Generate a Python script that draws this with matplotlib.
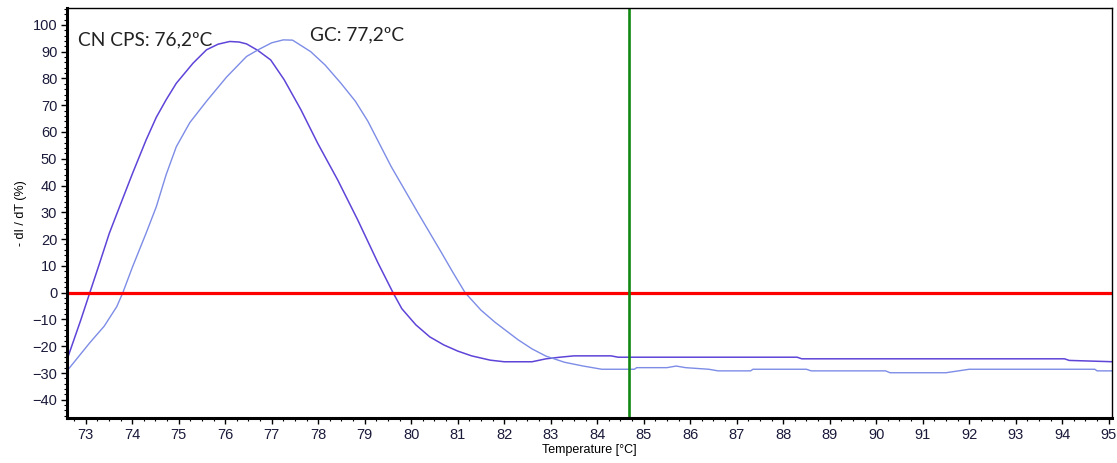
import numpy as np
import matplotlib
matplotlib.use("Agg")
import matplotlib.pyplot as plt
from matplotlib.ticker import MultipleLocator

# CN CPS melt curve (darker trace)
cn_temp = [72.6, 72.9, 73.09, 73.3, 73.51, 73.73, 74.01, 74.3, 74.52, 74.73, 74.95, 75.31,
           75.6, 75.85, 76.1, 76.3, 76.46, 76.7, 76.98, 77.27, 77.63, 77.99, 78.42, 78.85,
           79.29, 79.61, 79.8, 80.1, 80.4, 80.7, 81.0, 81.3, 81.7, 82.0, 82.6, 82.9,
           83.2, 83.5, 84.3, 84.45, 88.3, 88.4, 94.05, 94.15, 95.1]
cn_val = [-25, -10, 0, 11, 22.2, 32.1, 44.6, 57, 65.5, 72, 78.2, 85.7,
          90.7, 92.8, 93.8, 93.6, 92.9, 90.5, 86.9, 79.5, 68.3, 55.8, 42.1, 27.2,
          11, 0, -6, -12, -16.5, -19.5, -21.8, -23.6, -25.2, -25.8, -25.8, -24.7,
          -24.1, -23.6, -23.6, -24.1, -24.1, -24.7, -24.7, -25.3, -25.8]

# GC melt curve (lighter trace)
gc_temp = [72.6, 73.09, 73.4, 73.67, 73.8, 74.01, 74.3, 74.52, 74.73, 74.95, 75.24, 75.6,
           76.03, 76.46, 76.71, 77.0, 77.25, 77.45, 77.84, 78.15, 78.49, 78.8, 79.07, 79.57,
           80.15, 80.65, 80.9, 81.16, 81.5, 81.8, 82.3, 82.6, 82.9, 83.3, 83.7, 84.1, 84.8,
           84.85, 85.5, 85.7, 85.9, 86.4, 86.6, 87.3, 87.35, 88.5, 88.6, 90.2, 90.3,
           91.5, 92.0, 94.7, 94.75, 95.1]
gc_val = [-29.2, -18.7, -12.5, -5.2, 0, 9.7, 22.2, 32.1, 44, 54.5, 63.5, 71.5,
          80.5, 88.2, 90.7, 93.3, 94.4, 94.3, 90, 85, 78.2, 71.5, 64, 47.1,
          29.7, 15, 7.5, 0, -6.5, -11, -17.6, -21, -23.7, -26, -27.4, -28.6, -28.6,
          -28, -28, -27.4, -28, -28.6, -29.2, -29.2, -28.6, -28.6, -29.2, -29.2, -29.9,
          -29.9, -28.6, -28.6, -29.2, -29.2]

cursor_temp = 84.68
labels = ["CN CPS: 76,2ºC", "GC: 77,2ºC"]
label_pos = [(72.83, 92.3), (77.82, 94.2)]

fig = plt.figure(figsize=(11.17, 4.63), dpi=100)
ax = fig.add_axes([0.060, 0.0972, 0.9355, 0.8855])

ax.plot(cn_temp, cn_val, color="#5f44d8", lw=1.1)
ax.plot(gc_temp, gc_val, color="#7d8ce6", lw=1.0)
ax.axhline(0, color="#ff0000", lw=2.3)
ax.axvline(cursor_temp, color="#118811", lw=1.9)

for txt, (x, y) in zip(labels, label_pos):
    ax.text(x, y, txt, fontsize=13.8, family="Lato", color="#222222", va="baseline")

ax.set_xlim(72.6, 95.07)
ax.set_ylim(-46.8, 106.3)
ax.xaxis.set_major_locator(MultipleLocator(1))
ax.xaxis.set_minor_locator(MultipleLocator(0.25))
ax.yaxis.set_major_locator(MultipleLocator(10))
ax.yaxis.set_minor_locator(MultipleLocator(2))
ax.tick_params(which="major", length=4, width=1, labelsize=10.5, pad=3)
ax.tick_params(which="minor", length=2, width=0.8)
for lab in ax.get_xticklabels() + ax.get_yticklabels():
    lab.set_family("Liberation Sans")
    lab.set_color("#1a1a3a")

ax.spines["left"].set_linewidth(2.2)
ax.spines["bottom"].set_linewidth(2.2)
ax.spines["top"].set_linewidth(1.0)
ax.spines["right"].set_linewidth(1.0)

ax.set_xlabel("Temperature [°C]", fontsize=9, family="Liberation Sans", labelpad=2)
ax.set_ylabel("- dI / dT (%)", fontsize=9, family="Liberation Sans", labelpad=4)

fig.savefig("out.png", dpi=100)
